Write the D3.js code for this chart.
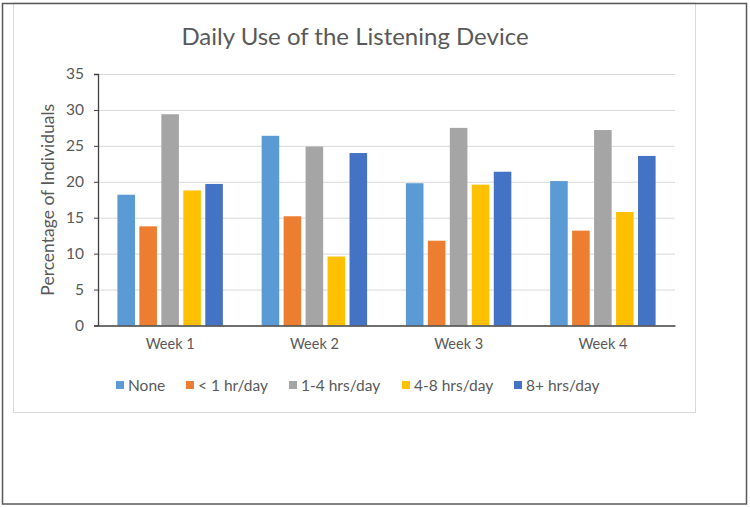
<!DOCTYPE html>
<html>
  <head>
    <title>Daily Use of the Listening Device</title>
    <script src="https://d3js.org/d3.v7.min.js"></script>
    <style>
      body { margin: 0; background-color: white; }
      text { font-family: Lato, 'Open Sans', sans-serif; fill: #595959; }
    </style>
  </head>
  <body>
    <svg id="canvas" width="750" height="507"></svg>

    <script>
      const weeks = ['Week 1', 'Week 2', 'Week 3', 'Week 4']
      const series = ['None', '< 1 hr/day', '1-4 hrs/day', '4-8 hrs/day', '8+ hrs/day']
      // one array per series, in week order
      const none = [18.2, 26.4, 19.8, 20.1]
      const lessThan1 = [13.8, 15.2, 11.8, 13.2]
      const oneToFour = [29.4, 24.9, 27.5, 27.2]
      const fourToEight = [18.8, 9.6, 19.6, 15.8]
      const eightPlus = [19.7, 24.0, 21.4, 23.6]
      const yTicks = [0, 5, 10, 15, 20, 25, 30, 35]
      const colors = ['#5B9BD5', '#ED7D31', '#A5A5A5', '#FFC000', '#4472C4']

      const values = [none, lessThan1, oneToFour, fourToEight, eightPlus]

      let margin = { top: 74, right: 75, bottom: 181.5, left: 98 }

      let svg = d3.select('#canvas')
      let width = +svg.attr('width') - margin.left - margin.right
      let height = +svg.attr('height') - margin.top - margin.bottom

      // outer frame and chart area border
      svg.append('rect')
        .attr('x', 13.5).attr('y', 3).attr('width', 682).attr('height', 409.5)
        .attr('fill', 'white').attr('stroke', '#D9D9D9').attr('stroke-width', 1)
      svg.append('rect')
        .attr('x', 2.5).attr('y', 3.5).attr('width', 744).attr('height', 500.5)
        .attr('fill', 'none').attr('stroke', '#595959').attr('stroke-width', 1.5)

      let g = svg.append('g').attr('transform', `translate(${margin.left}, ${margin.top})`)

      let x0 = d3.scaleBand().domain(weeks).range([0, width]).paddingInner(0).paddingOuter(0)
      let x1 = d3.scaleBand().domain(series).range([19.4, x0.bandwidth() - 19.4]).paddingInner(0.2)
      let y = d3.scaleLinear().domain([0, 35]).range([height, 0])

      // gridlines
      g.append('g')
        .selectAll('line')
        .data(yTicks.filter(d => d > 0))
        .enter()
        .append('line')
          .attr('x1', 0).attr('x2', width)
          .attr('y1', d => y(d) + 0.5).attr('y2', d => y(d) + 0.5)
          .attr('stroke', '#D9D9D9').attr('stroke-width', 1)

      // bars
      let groups = g.selectAll('g.week')
        .data(weeks)
        .enter()
        .append('g')
          .attr('class', 'week')
          .attr('transform', d => `translate(${x0(d)}, 0)`)

      groups.selectAll('rect')
        .data((w, i) => series.map((s, j) => ({ s: s, v: values[j][i], c: colors[j] })))
        .enter()
        .append('rect')
          .attr('x', d => x1(d.s))
          .attr('y', d => y(d.v))
          .attr('width', x1.bandwidth())
          .attr('height', d => height - y(d.v))
          .attr('fill', d => d.c)

      // y axis
      let yAxis = g.append('g')
        .call(d3.axisLeft(y).tickValues(yTicks).tickSize(4).tickPadding(10))
      yAxis.select('.domain').attr('stroke', '#404040').attr('stroke-width', 1.3)
      yAxis.selectAll('.tick line').attr('stroke', '#404040')
      yAxis.selectAll('text').style('font-size', '15.5px').style('fill', '#595959')

      // x axis
      let xAxis = g.append('g')
        .attr('transform', `translate(0, ${height})`)
        .call(d3.axisBottom(x0).tickSize(0).tickPadding(13))
      xAxis.select('.domain').attr('stroke', '#404040').attr('stroke-width', 1.5)
      xAxis.selectAll('text').style('font-size', '14.5px').style('fill', '#595959')

      // y axis title
      svg.append('text')
        .attr('transform', `translate(54, ${margin.top + height / 2}) rotate(-90)`)
        .attr('text-anchor', 'middle')
        .style('font-size', '17.5px')
        .text('Percentage of Individuals')

      // title
      svg.append('text')
        .attr('x', 355)
        .attr('y', 45)
        .attr('text-anchor', 'middle')
        .style('font-size', '24px')
        .text('Daily Use of the Listening Device')

      // legend
      const legendX = [116, 186, 289, 402, 514]
      let legend = svg.append('g').attr('transform', 'translate(0, 385)')
      let items = legend.selectAll('g')
        .data(series)
        .enter()
        .append('g')
          .attr('transform', (d, i) => `translate(${legendX[i]}, 0)`)
      items.append('rect')
        .attr('x', 0).attr('y', -4).attr('width', 8).attr('height', 8)
        .attr('fill', (d, i) => colors[i])
      items.append('text')
        .attr('x', 12).attr('y', 5.5)
        .style('font-size', '15.5px')
        .text(d => d)
    </script>
  </body>
</html>
